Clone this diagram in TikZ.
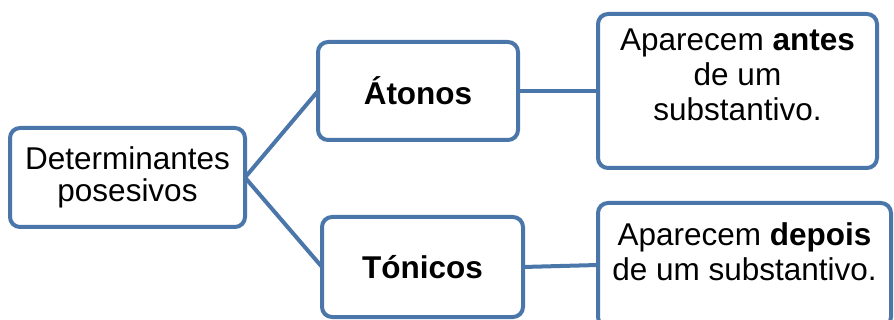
\documentclass[tikz,border=0pt]{standalone}
\usepackage{fontspec}
\setmainfont{Liberation Sans}
\usetikzlibrary{positioning}
\definecolor{mapblue}{RGB}{74,118,170}

\begin{document}
\begin{tikzpicture}[x=1pt, y=1pt, font=\fontsize{31.5}{35}\selectfont,
    box/.style={draw=mapblue, line width=4pt, rounded corners=10pt, align=center, fill=white, outer sep=0pt},
    boxtext/.style={anchor=north, inner sep=0pt, align=center},
    link/.style={draw=mapblue, line width=4pt}]
    \useasboundingbox (0,0) rectangle (894,-320);
    \node[box, minimum width=235pt, minimum height=99pt, font=\fontsize{31.5}{32}\selectfont] (root) at (127.5,-177.5) {Determinantes\\posesivos};
    \node[box, minimum width=200pt, minimum height=98pt, right=73pt of root, yshift=86.5pt] (atonos) {\textbf{Átonos}};
    \node[box, minimum width=201pt, minimum height=100pt, right=77pt of root, yshift=-89.5pt] (tonicos) {\textbf{Tónicos}};
    \node[box, minimum width=279pt, minimum height=154pt, right=80pt of atonos,
        label={[boxtext, yshift=-15pt]north:Aparecem \textbf{antes}\\de um\\substantivo.}] (antes) {};
    \node[box, minimum width=293pt, minimum height=124pt, right=75pt of tonicos, yshift=2pt,
        label={[boxtext, yshift=-19pt]north:Aparecem \textbf{depois}\\de um substantivo.}] (depois) {};

    \draw[link] (root.east) -- (atonos.west);
    \draw[link] (root.east) -- (tonicos.west);
    \draw[link] (atonos.east) -- (antes.west);
    \draw[link] (tonicos.east) -- (depois.west);
\end{tikzpicture}
\end{document}
